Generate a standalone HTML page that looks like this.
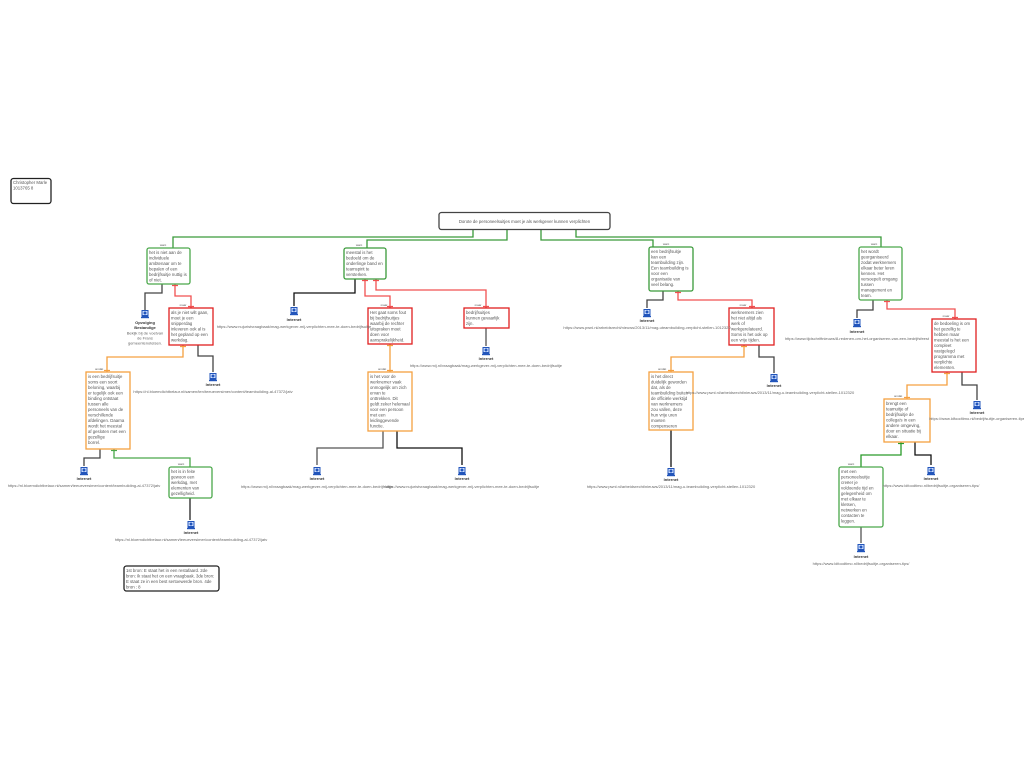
<!DOCTYPE html>
<html><head><meta charset="utf-8"><style>
html,body{margin:0;padding:0;background:#fff;width:1024px;height:768px;overflow:hidden}
svg{display:block}
text{font-family:"Liberation Sans",sans-serif;font-size:4.3px;fill:#555}
.u{font-size:4px;fill:#666;text-anchor:middle}
.lb{font-size:4px;font-weight:bold;text-anchor:middle;fill:#333}
.tg{font-size:3px;text-anchor:middle}
</style></head><body>
<svg width="1024" height="768" viewBox="0 0 1024 768">
<defs>
<g id="ic"><rect x="-3.5" y="-4" width="7" height="7" fill="#2255bb"/><rect x="-2.5" y="-3" width="5" height="4" fill="#cfe0ff"/><circle cx="0" cy="-1" r="1.5" fill="#2255bb"/><rect x="-4" y="3" width="8" height="1.2" fill="#2255bb"/></g>
</defs>
<g fill="none" stroke-width="1.3">
<path d="M473 229V237H173V248" stroke="#3a9a3a"/>
<path d="M507 229V240H367V248" stroke="#3a9a3a"/>
<path d="M541 229V240H653V247" stroke="#3a9a3a"/>
<path d="M576 229V237H881V247" stroke="#3a9a3a"/>
<path d="M162 284V293H145V310" stroke="#444"/>
<path d="M175 284V296H191V308" stroke="#f05050"/>
<path d="M198 345V356H213V372" stroke="#444"/>
<path d="M183 345V357H107V372" stroke="#f5a040"/>
<path d="M100 449V458H84V466" stroke="#444"/>
<path d="M114 449V458H190V467" stroke="#4aa84a"/>
<path d="M190 498V520" stroke="#222"/>
<path d="M355 279V293H294V306" stroke="#111"/>
<path d="M365 279V296H390V308" stroke="#f05050"/>
<path d="M376 279V290H486V308" stroke="#f05050"/>
<path d="M486 328V346" stroke="#555"/>
<path d="M390 344V372" stroke="#f5a040"/>
<path d="M383 431V448H317V465" stroke="#555"/>
<path d="M397 431V448H462V465" stroke="#111"/>
<path d="M663 291V300H647V308" stroke="#444"/>
<path d="M678 291V300H752V308" stroke="#f05050"/>
<path d="M759 345V357H774V373" stroke="#444"/>
<path d="M744 345V357H671V372" stroke="#f5a040"/>
<path d="M671 430V467" stroke="#111"/>
<path d="M873 300V310H857V318" stroke="#444"/>
<path d="M887 300V309H955V319" stroke="#f05050"/>
<path d="M962 372V385H977V400" stroke="#444"/>
<path d="M947 372V385H907V399" stroke="#f5a040"/>
<path d="M915 442V455H931V465" stroke="#111"/>
<path d="M901 442V455H861V467" stroke="#2a9a2a"/>
<path d="M861 527V543" stroke="#555"/>
</g>
<g stroke-width="1.2">
<path d="M172 285.5h6M188 306.5h6" stroke="#f05050"/>
<path d="M180 346.5h6M104 370.5h6" stroke="#f5a040"/>
<path d="M111 450.5h6" stroke="#4aa84a"/>
<path d="M362 280.5h6M373 280.5h6M387 306.5h6M483 306.5h6" stroke="#f05050"/>
<path d="M387 345.5h6M387 370.5h6" stroke="#f5a040"/>
<path d="M675 292.5h6M749 306.5h6" stroke="#f05050"/>
<path d="M741 346.5h6M668 370.5h6" stroke="#f5a040"/>
<path d="M884 301.5h6M952 317.5h6" stroke="#f05050"/>
<path d="M944 373.5h6M904 397.5h6" stroke="#f5a040"/>
<path d="M898 443.5h6" stroke="#2a9a2a"/>
</g>
<g fill="#fff" stroke-width="1.3">
<rect x="11" y="178.5" width="40" height="25" rx="2.5" stroke="#222"/>
<rect x="439" y="212.5" width="171" height="17" rx="2.5" stroke="#444"/>
<rect x="147" y="248" width="43" height="36" rx="2" stroke="#4aa84a"/>
<rect x="169" y="308" width="44" height="37" stroke="#e02020"/>
<rect x="86" y="372" width="44" height="77" stroke="#f5a040"/>
<rect x="169" y="467" width="43" height="31" rx="2" stroke="#4aa84a"/>
<rect x="124" y="566" width="95" height="25" rx="2.5" stroke="#222"/>
<rect x="344" y="248" width="42" height="31" rx="2" stroke="#3a9a3a"/>
<rect x="368" y="308" width="44" height="36" stroke="#e02020"/>
<rect x="464" y="308" width="45" height="20" stroke="#e02020"/>
<rect x="368" y="372" width="44" height="59" stroke="#f5a040"/>
<rect x="649" y="247" width="44" height="44" rx="2" stroke="#3a9a3a"/>
<rect x="729" y="308" width="45" height="37" stroke="#e02020"/>
<rect x="649" y="372" width="44" height="58" stroke="#f5a040"/>
<rect x="859" y="247" width="43" height="53" rx="2" stroke="#4aa84a"/>
<rect x="932" y="319" width="44" height="53" stroke="#e02020"/>
<rect x="884" y="399" width="46" height="43" stroke="#f5a040"/>
<rect x="839" y="467" width="44" height="60" rx="2" stroke="#4aa84a"/>
</g>
<text class="tg" x="163" y="246" fill="#4aa84a">want</text>
<text class="tg" x="183" y="306" fill="#f05050">maar</text>
<text class="tg" x="99" y="370" fill="#f5a040">omdat</text>
<text class="tg" x="181" y="465" fill="#4aa84a">want</text>
<text class="tg" x="359" y="246" fill="#4aa84a">want</text>
<text class="tg" x="384" y="306" fill="#f05050">maar</text>
<text class="tg" x="478" y="306" fill="#f05050">maar</text>
<text class="tg" x="382" y="370" fill="#f5a040">omdat</text>
<text class="tg" x="666" y="245" fill="#4aa84a">want</text>
<text class="tg" x="743" y="306" fill="#f05050">maar</text>
<text class="tg" x="662" y="370" fill="#f5a040">omdat</text>
<text class="tg" x="874" y="245" fill="#4aa84a">want</text>
<text class="tg" x="946" y="317" fill="#f05050">maar</text>
<text class="tg" x="898" y="397" fill="#f5a040">omdat</text>
<text class="tg" x="851" y="465" fill="#4aa84a">want</text>
<text x="13" y="184">Christopher Marle</text><text x="13" y="189.5">1013765 8</text>
<text x="524.5" y="223" text-anchor="middle">Dorote de personeelsuitjes moet je als werkgever kunnen verplichten</text>
<g>
<text x="149" y="254">het is niet aan de</text><text x="149" y="259.5">individuele</text><text x="149" y="265">ambtenaar om te</text><text x="149" y="270.5">bepalen of een</text><text x="149" y="276">bedrijfsuitje nuttig is</text><text x="149" y="281.5">of niet.</text>
<text x="171" y="314">als je niet wilt gaan,</text><text x="171" y="319.5">moet je een</text><text x="171" y="325">snipperdag</text><text x="171" y="330.5">inleveren ook al is</text><text x="171" y="336">het gepland op een</text><text x="171" y="341.5">werkdag.</text>
<text x="88" y="378">is een bedrijfsuitje</text><text x="88" y="383.5">soms een soort</text><text x="88" y="389">beloning, waarbij</text><text x="88" y="394.5">er tegelijk ook een</text><text x="88" y="400">binding ontstaat</text><text x="88" y="405.5">tussen alle</text><text x="88" y="411">personeels van de</text><text x="88" y="416.5">verschillende</text><text x="88" y="422">afdelingen. Daarna</text><text x="88" y="427.5">wordt het meestal</text><text x="88" y="433">af gesloten met een</text><text x="88" y="438.5">gezellige</text><text x="88" y="444">borrel.</text>
<text x="171" y="473">het is in feite</text><text x="171" y="478.5">gewoon een</text><text x="171" y="484">werkdag, met</text><text x="171" y="489.5">elementen van</text><text x="171" y="495">gezelligheid.</text>
<text x="126" y="572">1st bron: E staat het in een restafaard. 2de</text><text x="126" y="577.5">bron: Ik staat het on een vraagbaak. 3de bron:</text><text x="126" y="583">E staat ze in een best sertoewerde bron. 4de</text><text x="126" y="588.5">bron : 8</text>
<text x="346" y="254">meestal is het</text><text x="346" y="259.5">bedoeld om de</text><text x="346" y="265">onderlinge band en</text><text x="346" y="270.5">teamspirit te</text><text x="346" y="276">versterken.</text>
<text x="370" y="314">Het gaat soms fout</text><text x="370" y="319.5">bij bedrijfsuitjes</text><text x="370" y="325">waarbij de rechter</text><text x="370" y="330.5">uitspraken moet</text><text x="370" y="336">doen voor</text><text x="370" y="341.5">aansprakelijkheid.</text>
<text x="466" y="314">bedrijfsuitjes</text><text x="466" y="319.5">kunnen gevaarlijk</text><text x="466" y="325">zijn.</text>
<text x="370" y="378">is het voor de</text><text x="370" y="383.5">werknemer vaak</text><text x="370" y="389">onmogelijk om zich</text><text x="370" y="394.5">ervan te</text><text x="370" y="400">onttrekken. Dit</text><text x="370" y="405.5">geldt zeker helemaal</text><text x="370" y="411">voor een persoon</text><text x="370" y="416.5">met een</text><text x="370" y="422">leidinggevende</text><text x="370" y="427.5">functie.</text>
<text x="651" y="253">een bedrijfsuitje</text><text x="651" y="258.5">kan een</text><text x="651" y="264">teambuilding zijn.</text><text x="651" y="269.5">Een teambuilding is</text><text x="651" y="275">voor een</text><text x="651" y="280.5">organisatie van</text><text x="651" y="286">veel belang.</text>
<text x="731" y="314">werknemers zien</text><text x="731" y="319.5">het niet altijd als</text><text x="731" y="325">werk of</text><text x="731" y="330.5">werkgerelateerd.</text><text x="731" y="336">Soms is het ook op</text><text x="731" y="341.5">een vrije tijden.</text>
<text x="651" y="378">is het direct</text><text x="651" y="383.5">duidelijk geworden</text><text x="651" y="389">dat, als de</text><text x="651" y="394.5">teambuilding buiten</text><text x="651" y="400">de officiële werktijd</text><text x="651" y="405.5">van werknemers</text><text x="651" y="411">zou vallen, deze</text><text x="651" y="416.5">hun vrije uren</text><text x="651" y="422">moeten</text><text x="651" y="427.5">compenseren</text>
<text x="861" y="253">het wordt</text><text x="861" y="258.5">georganiseerd</text><text x="861" y="264">zodat werknemers</text><text x="861" y="269.5">elkaar beter leren</text><text x="861" y="275">kennen. Het</text><text x="861" y="280.5">versoepelt omgang</text><text x="861" y="286">tussen</text><text x="861" y="291.5">management en</text><text x="861" y="297">team.</text>
<text x="934" y="325">de bedoeling is om</text><text x="934" y="330.5">het gezellig te</text><text x="934" y="336">hebben maar</text><text x="934" y="341.5">meestal is het een</text><text x="934" y="347">compleet</text><text x="934" y="352.5">vastgelegd</text><text x="934" y="358">programma met</text><text x="934" y="363.5">verplichte</text><text x="934" y="369">elementen.</text>
<text x="886" y="405">brengt een</text><text x="886" y="410.5">teamuitje of</text><text x="886" y="416">bedrijfsuitje de</text><text x="886" y="421.5">collega's in een</text><text x="886" y="427">andere omgeving,</text><text x="886" y="432.5">door en situatie bij</text><text x="886" y="438">elkaar.</text>
<text x="841" y="473">met een</text><text x="841" y="478.5">personeelsuitje</text><text x="841" y="484">creëer je</text><text x="841" y="489.5">voldoende tijd en</text><text x="841" y="495">gelegenheid om</text><text x="841" y="500.5">met elkaar te</text><text x="841" y="506">kletsen,</text><text x="841" y="511.5">netwerken en</text><text x="841" y="517">contacten te</text><text x="841" y="522.5">leggen.</text>
</g>
<use href="#ic" x="145" y="314"/>
<text class="lb" x="145" y="324">Opvolging</text><text class="lb" x="145" y="329">Bestandige</text>
<text class="u" x="145" y="334.5">Bekijk bij de voetvan</text><text class="u" x="145" y="339.5">de Frans</text><text class="u" x="145" y="344.5">gemeentenotelsen.</text>
<use href="#ic" x="213" y="377"/><text class="lb" x="213" y="386">Internet</text><text class="u" x="213" y="393">https://nl.bloemdichtbelaur.nl/samen/ten/teeueversimer/content/teambuilding-al-47372/jatv</text>
<use href="#ic" x="84" y="471"/><text class="lb" x="84" y="480">Internet</text><text class="u" x="84" y="487">https://nl.bloemdichtbelaur.nl/samen/teeueversimer/content/teambuilding-al-47372/jatv</text>
<use href="#ic" x="191" y="525"/><text class="lb" x="191" y="534">Internet</text><text class="u" x="191" y="541">https://nl.bloemdichtbelaur.nl/samen/teeueversimer/content/teambuilding-al-47372/jatv</text>
<use href="#ic" x="294" y="311"/><text class="lb" x="294" y="321">Internet</text><text class="u" x="294" y="328">https://www.nujuristvraagbaak/mag-werkgever-mij-verplichten-mee-te-doen-bedrijfsuitje</text>
<use href="#ic" x="486" y="351"/><text class="lb" x="486" y="360">Internet</text><text class="u" x="486" y="367">https://www.mij.nl/vraagbaak/mag-werkgever-mij-verplichten-mee-te-doen-bedrijfsuitje</text>
<use href="#ic" x="317" y="471"/><text class="lb" x="317" y="480">Internet</text><text class="u" x="317" y="488">https://www.mij.nl/vraagbaak/mag-werkgever-mij-verplichten-mee-te-doen-bedrijfsuitje</text>
<use href="#ic" x="462" y="471"/><text class="lb" x="462" y="480">Internet</text><text class="u" x="462" y="488">https://www.nujuristvraagbaak/mag-werkgever-mij-verplichten-mee-te-doen-bedrijfsuitje</text>
<use href="#ic" x="647" y="313"/><text class="lb" x="647" y="322">Internet</text><text class="u" x="647" y="329">https://www.pwnl.nl/arbeidsrecht/nieuws/2013/11/mag-uteambuilding-verplicht-stellen-1012320</text>
<use href="#ic" x="774" y="378"/><text class="lb" x="774" y="387">Internet</text><text class="u" x="770" y="394">https://www.pwnl.nl/arbeidsrecht/nieuws/2013/11/mag-u-teambuilding-verplicht-stellen-1012320</text>
<use href="#ic" x="671" y="472"/><text class="lb" x="671" y="481">Internet</text><text class="u" x="671" y="488">https://www.pwnl.nl/arbeidsrecht/nieuws/2013/11/mag-u-teambuilding-verplicht-stellen-1012320</text>
<use href="#ic" x="857" y="323"/><text class="lb" x="857" y="333">Internet</text><text class="u" x="857" y="340">https://www.tijdschriftnieuws/8-redenen-om-het-organiseren-van-een-bedrijfsfeest</text>
<use href="#ic" x="977" y="405"/><text class="lb" x="977" y="414">Internet</text><text class="u" x="977" y="420">https://www.ldfoodtimo.nl/bedrijfsuitje-organiseren-tips</text>
<use href="#ic" x="931" y="471"/><text class="lb" x="931" y="480">Internet</text><text class="u" x="931" y="487">https://www.ldfoodtimo.nl/bedrijfsuitje-organiseren-tips/</text>
<use href="#ic" x="861" y="548"/><text class="lb" x="861" y="558">Internet</text><text class="u" x="861" y="565">https://www.ldfoodtimo.nl/bedrijfsuitje-organiseren-tips/</text>
</svg>
</body></html>
